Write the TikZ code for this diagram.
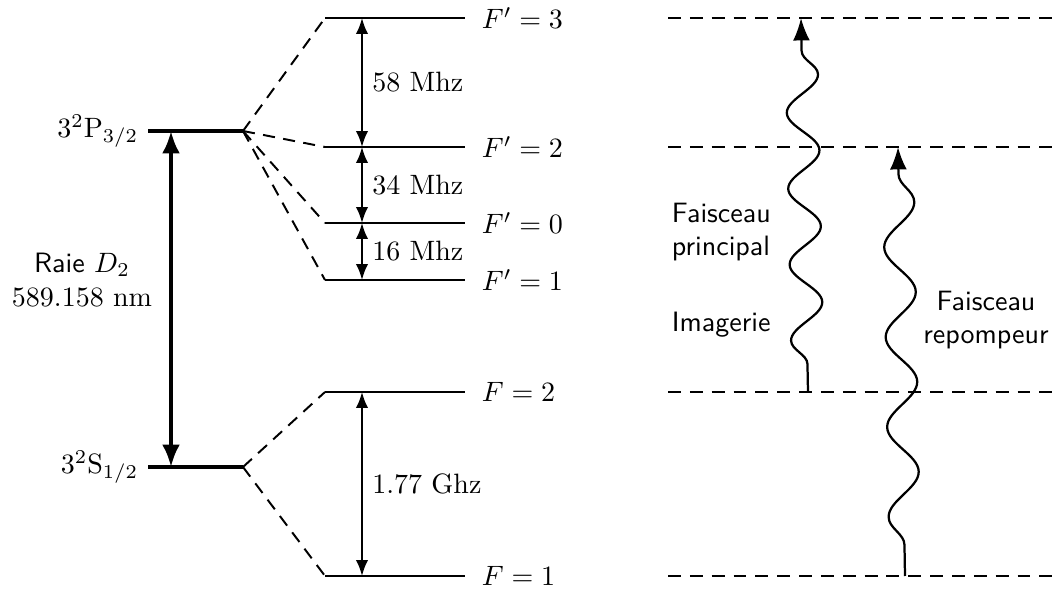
\documentclass[tikz,border=0pt]{standalone}
\usepackage{amsmath}
\usepackage{tikz}
\usetikzlibrary{arrows.meta,calc,decorations.pathmorphing}
\tikzset{
  fineline/.style  = {line width=0.7pt},
  mainline/.style  = {line width=1.4pt},
  splitline/.style = {line width=0.7pt, dash pattern=on 4.3pt off 3pt},
  virtline/.style  = {line width=0.7pt, dash pattern=on 4.6pt off 3.2pt},
  gaparrow/.style  = {{Latex[length=5.7pt,width=4.4pt]}-{Latex[length=5.7pt,width=4.4pt]}, line width=0.7pt},
  dline/.style     = {{Latex[length=8pt,width=6.4pt]}-{Latex[length=8pt,width=6.4pt]}, line width=1.4pt},
  photon/.style    = {-{Latex[length=8pt,width=6pt]}, line width=0.8pt, decorate,
                      decoration={snake, amplitude=5.7pt}},
  lbl/.style       = {font=\sffamily, align=left},
}

\begin{document}
\begin{tikzpicture}[x=0.357pt, y=-0.357pt]
\useasboundingbox (0,0) rectangle (1054,590);
\coordinate (pL) at (148,131);
\coordinate (pR) at (243,131);
\coordinate (sL) at (148,467);
\coordinate (sR) at (243,467);
\draw[mainline] (pL) -- (pR);
\draw[mainline] (sL) -- (sR);
\node[left] (pname) at (pL) {$3^2\mathrm{P}_{3/2}$};
\node[left] (sname) at (sL) {$3^2\mathrm{S}_{1/2}$};

\foreach \nm/\yy/\lab in {e3/18/F'=3, e2/147/F'=2, e0/223/F'=0, e1/280/F'=1, g2/392/F=2, g1/576/F=1} {
  \coordinate (\nm w) at (325,\yy);
  \coordinate (\nm e) at (465,\yy);
  \draw[fineline] (\nm w) -- (\nm e);
  \node[right=2.5pt] (\nm name) at (\nm e) {$\lab$};
}
\foreach \nm in {e3,e2,e0,e1} \draw[splitline] (pR) -- (\nm w);
\foreach \nm in {g2,g1} \draw[splitline] (sR) -- (\nm w);

\coordinate (ax) at (362,0);
\draw[gaparrow] (ax |- e3w) -- node[right]{58 Mhz} (ax |- e2w);
\draw[gaparrow] (ax |- e2w) -- node[right]{34 Mhz} (ax |- e0w);
\draw[gaparrow] (ax |- e0w) -- node[right]{16 Mhz} (ax |- e1w);
\draw[gaparrow] (ax |- g2w) -- node[right]{1.77 Ghz} (ax |- g1w);

\coordinate (bx) at (171,0);
\draw[dline] (bx |- pL) -- (bx |- sL);
\node[align=center] (d2) at (82,280) {\textsf{Raie} $D_2$\\589.158 nm};

\foreach \nm/\yy in {v3/18, v2/147, v1/392, v0/576} {
  \coordinate (\nm w) at (668,\yy);
  \coordinate (\nm e) at (1054,\yy);
  \draw[virtline] (\nm w) -- (\nm e);
}
\coordinate (imgA) at (808,392);
\coordinate (imgB) at (801,18);
\coordinate (repA) at (905,576);
\coordinate (repB) at (898,147);
\draw[photon, decoration={segment length=27.1pt, pre length=10pt, post length=10.7pt}] (imgA) -- (imgB);
\draw[photon, decoration={segment length=32.1pt, amplitude=5.5pt, pre length=11.1pt, post length=8.9pt}] (repA) -- (repB);

\node[lbl, anchor=west] (princ) at (662,232) {Faisceau\\principal};
\node[lbl, anchor=west] (imag) at (662,325) {Imagerie};
\node[lbl, align=center] (repomp) at (986,320) {Faisceau\\repompeur};
\end{tikzpicture}
\end{document}
